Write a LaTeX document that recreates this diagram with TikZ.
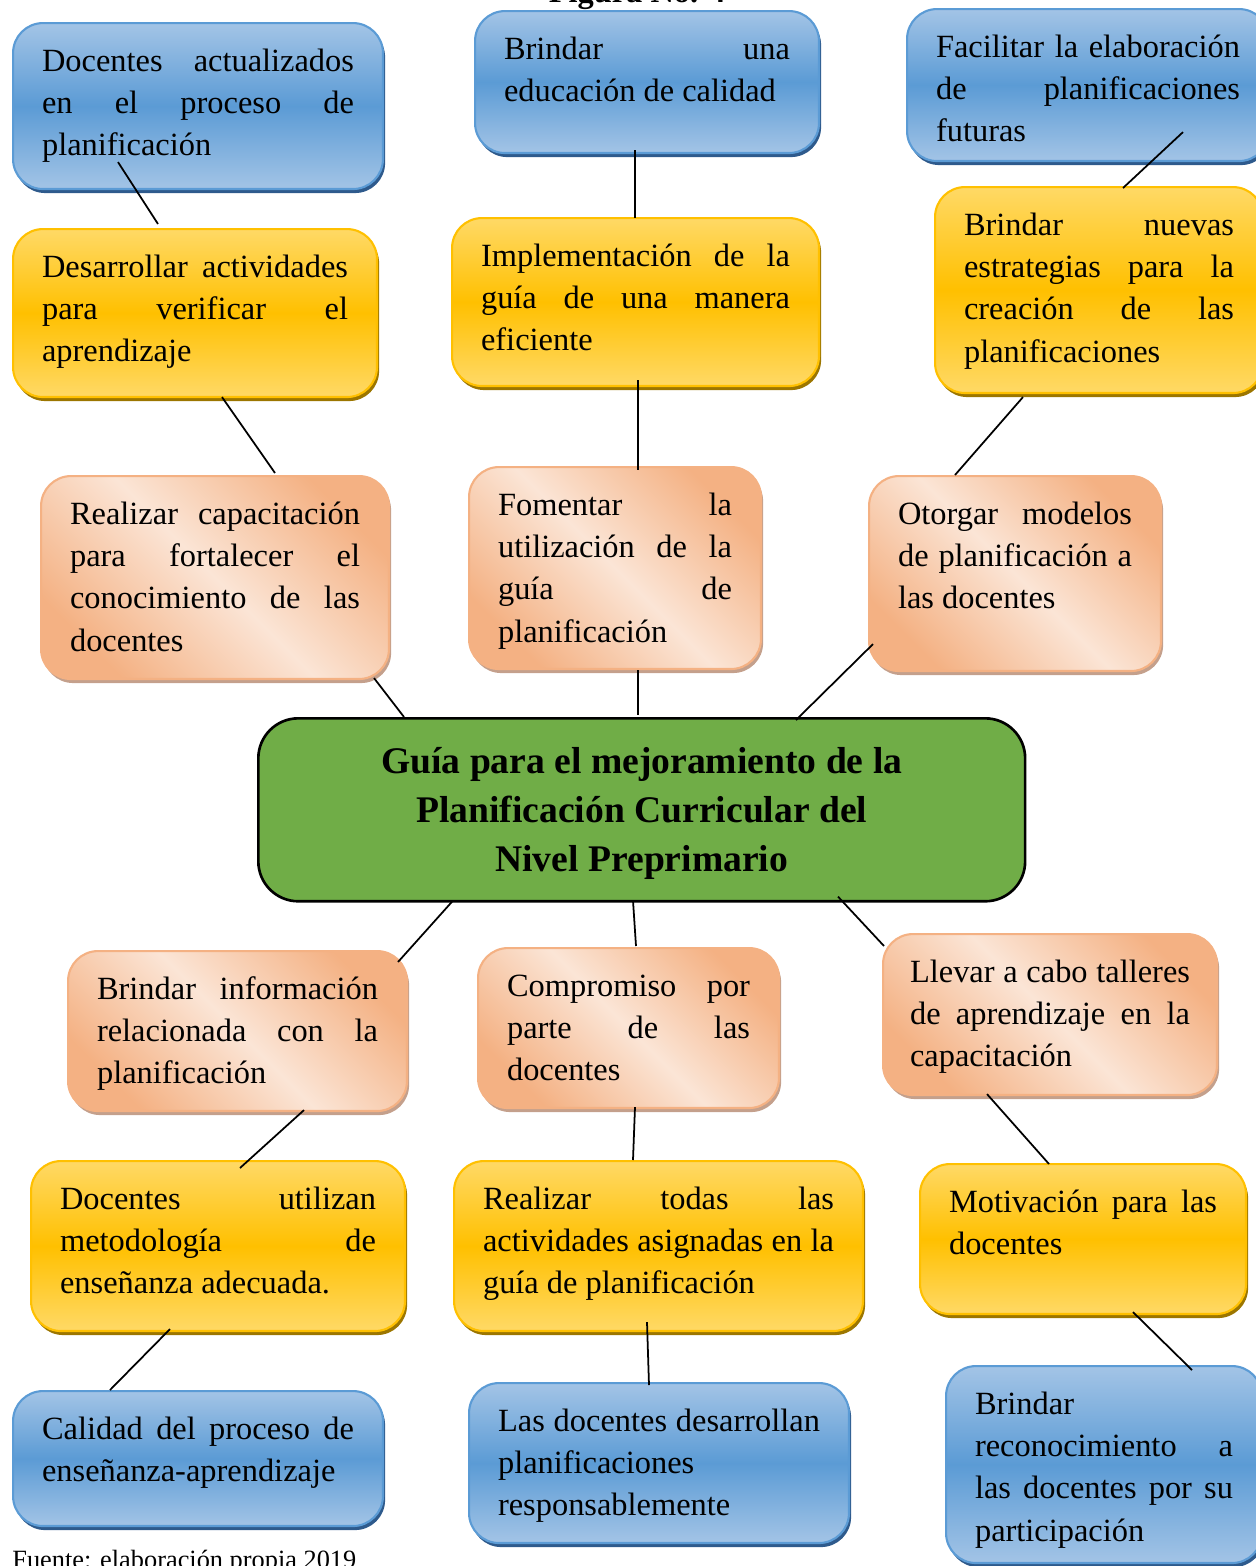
\documentclass[tikz,border=0pt]{standalone}
\usepackage{fontspec}
\setmainfont{Liberation Serif}
\usetikzlibrary{shadows}
\definecolor{bluelight}{HTML}{A3C4E6}
\definecolor{bluemid}{HTML}{5B9BD5}
\definecolor{blueshadow}{HTML}{2E5A8C}
\definecolor{yellowlight}{HTML}{FFD966}
\definecolor{yellowmid}{HTML}{FFC000}
\definecolor{yellowshadow}{HTML}{9C7600}
\definecolor{peachdark}{HTML}{F4B183}
\definecolor{peachlight}{HTML}{FBE5D6}
\definecolor{peachshadow}{HTML}{C4A08C}
\definecolor{greenfill}{HTML}{70AD47}
\tikzset{
  caja/.style={rounded corners=0.6cm, line width=1.2pt, anchor=north west, align=justify,
    inner xsep=0.58cm, inner ysep=0pt, text height=0.97cm,
    font=\fontsize{18.45pt}{24pt}\selectfont},
  azul/.style={caja, draw=bluemid, top color=bluelight, bottom color=bluelight, middle color=bluemid,
    drop shadow={shadow xshift=1.2pt, shadow yshift=-2.3pt, fill=blueshadow, opacity=1}},
  amarillo/.style={caja, draw=yellowmid, top color=yellowlight, bottom color=yellowlight, middle color=yellowmid,
    drop shadow={shadow xshift=1.2pt, shadow yshift=-2.3pt, fill=yellowshadow, opacity=1}},
  durazno/.style={caja, draw=peachdark, top color=peachdark, bottom color=peachdark, middle color=peachlight,
    shading angle=-45, drop shadow={shadow xshift=1.2pt, shadow yshift=-2.3pt, fill=peachshadow, opacity=1}},
  central/.style={rounded corners=0.8cm, draw=black, line width=1.5pt, fill=greenfill, align=flush center,
    anchor=north west, inner xsep=0.5cm, inner ysep=0pt, text width=14.34cm, text height=1.1cm, text depth=2.56cm,
    font=\bfseries\fontsize{21.4pt}{27.9pt}\selectfont},
  linea/.style={black, line width=1pt}
}
\begin{document}
\begin{tikzpicture}[x=0.02cm, y=-0.02cm]
\useasboundingbox (0,0) rectangle (1256,1566);
\node[anchor=base, font=\bfseries\fontsize{18.45pt}{24pt}\selectfont] (titulo) at (637,2) {Figura No. 4};

% fila superior
\node[azul, text width=6.24cm, text depth=2.35cm] (b1) at (12,22) {Docentes actualizados\linebreak en el proceso de\linebreak planificación};
\node[azul, text width=5.72cm, text depth=1.87cm] (b2) at (474,10) {Brindar una\linebreak educación de calidad};
\node[azul, text width=6.08cm, text depth=2.07cm] (b3) at (906,8) {Facilitar la elaboración\linebreak de planificaciones\linebreak futuras};

\node[amarillo, text width=6.12cm, text depth=2.39cm] (y1) at (12,228) {Desarrollar actividades\linebreak para verificar el\linebreak aprendizaje};
\node[amarillo, text width=6.18cm, text depth=2.39cm] (y2) at (451,217) {Implementación de la\linebreak guía de una manera\linebreak eficiente};
\node[amarillo, text width=5.40cm, text depth=3.15cm] (y3) at (934,186) {Brindar nuevas\linebreak estrategias para la\linebreak creación de las\linebreak planificaciones};

\node[durazno, text width=5.80cm, text depth=3.09cm] (p1) at (40,475) {Realizar capacitación\linebreak para fortalecer el\linebreak conocimiento de las\linebreak docentes};
\node[durazno, text width=4.68cm, text depth=3.07cm] (p2) at (468,466) {Fomentar la\linebreak utilización de la\linebreak guía de\linebreak planificación};
\node[durazno, text width=4.68cm, text depth=2.93cm] (p3) at (868,475) {Otorgar modelos\linebreak de planificación a\linebreak las docentes};

% centro
\node[central] (guia) at (257,717) {Guía para el mejoramiento de la\\ Planificación Curricular del\\ Nivel Preprimario};

% fila inferior
\node[durazno, text width=5.62cm, text depth=2.23cm] (p4) at (67,950) {Brindar información\linebreak relacionada con la\linebreak planificación};
\node[durazno, text width=4.86cm, text depth=2.23cm] (p5) at (477,947) {Compromiso por\linebreak parte de las\linebreak docentes};
\node[durazno, text width=5.60cm, text depth=2.25cm, inner xsep=0.54cm] (p6) at (882,933) {Llevar a cabo talleres\linebreak de aprendizaje en la\linebreak capacitación};

\node[amarillo, text width=6.32cm, text depth=2.43cm] (y4) at (30,1160) {Docentes utilizan\linebreak metodología de\linebreak enseñanza adecuada.};
\node[amarillo, text width=7.02cm, text depth=2.43cm] (y5) at (453,1160) {Realizar todas las\linebreak actividades asignadas en la\linebreak guía de planificación};
\node[amarillo, text width=5.36cm, text depth=2.03cm] (y6) at (919,1163) {Motivación para las\linebreak docentes};

\node[azul, text width=6.24cm, text depth=1.73cm] (b4) at (12,1390) {Calidad del proceso de\linebreak enseñanza-aprendizaje};
\node[azul, text width=6.44cm, text depth=2.23cm] (b5) at (468,1382) {Las docentes desarrollan\linebreak planificaciones\linebreak responsablemente};
\node[azul, text width=5.16cm, text depth=2.97cm] (b6) at (945,1365) {Brindar\linebreak reconocimiento a\linebreak las docentes por su\linebreak participación};

\node[anchor=base west, inner sep=0pt, font=\fontsize{15pt}{18pt}\selectfont] (fuente) at (12,1568) {Fuente: elaboración propia 2019};

% conectores
\draw[linea] ([shift={(106,-28)}]b1.south west) -- ([shift={(146,-4)}]y1.north west);
\draw[linea] ([shift={(210,-1)}]y1.south west) -- ([shift={(235,-2)}]p1.north west);
\draw[linea] ([shift={(334,-2)}]p1.south west) -- ([shift={(147,0)}]guia.north west);
\draw[linea] ([shift={(161,-4)}]b2.south west) -- ([shift={(184,1)}]y2.north west);
\draw[linea] ([shift={(187,-7)}]y2.south west) -- ([shift={(170,4)}]p2.north west);
\draw[linea] ([shift={(170,0)}]p2.south west) -- ([shift={(381,-2)}]guia.north west);
\draw[linea] ([shift={(277,-30)}]b3.south west) -- ([shift={(189,2)}]y3.north west);
\draw[linea] ([shift={(89,3)}]y3.south west) -- ([shift={(87,0)}]p3.north west);
\draw[linea] ([shift={(5,-28)}]p3.south west) -- ([shift={(539,3)}]guia.north west);
\draw[linea] ([shift={(196,-2)}]guia.south west) -- ([shift={(331,12)}]p4.north west);
\draw[linea] ([shift={(376,-2)}]guia.south west) -- ([shift={(159,-1)}]p5.north west);
\draw[linea] ([shift={(581,-6)}]guia.south west) -- ([shift={(2,13)}]p6.north west);
\draw[linea] ([shift={(237,-2)}]p4.south west) -- ([shift={(210,8)}]y4.north west);
\draw[linea] ([shift={(158,-2)}]p5.south west) -- ([shift={(180,0)}]y5.north west);
\draw[linea] ([shift={(105,-2)}]p6.south west) -- ([shift={(130,1)}]y6.north west);
\draw[linea] ([shift={(140,-3)}]y4.south west) -- ([shift={(98,0)}]b4.north west);
\draw[linea] ([shift={(194,-10)}]y5.south west) -- ([shift={(181,3)}]b5.north west);
\draw[linea] ([shift={(214,-3)}]y6.south west) -- ([shift={(247,5)}]b6.north west);
\end{tikzpicture}
\end{document}
